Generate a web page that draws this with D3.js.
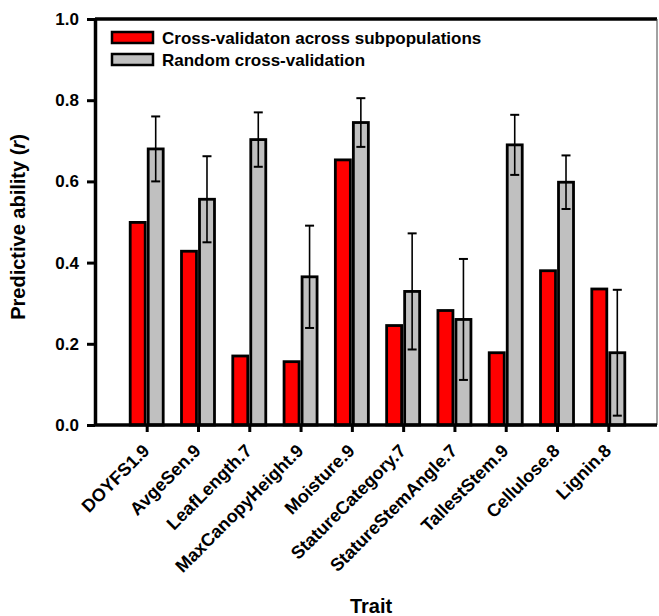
<!DOCTYPE html>
<html>
<head>
<meta charset="utf-8">
<script src="https://cdn.jsdelivr.net/npm/d3@7"></script>
<style>
  body { margin: 0; background: #fff; }
  svg text { font-family: "Liberation Sans", Arial, sans-serif; font-weight: bold; }
</style>
</head>
<body>
<div id="chart"></div>
<script>
const traits = ["DOYFS1.9", "AvgeSen.9", "LeafLength.7", "MaxCanopyHeight.9", "Moisture.9",
  "StatureCategory.7", "StatureStemAngle.7", "TallestStem.9", "Cellulose.8", "Lignin.8"];
const acrossSubpop = [0.499, 0.428, 0.170, 0.156, 0.653, 0.245, 0.282, 0.178, 0.380, 0.335];
const randomCV = [0.680, 0.556, 0.703, 0.365, 0.745, 0.329, 0.260, 0.690, 0.598, 0.178];
const randomErr = [0.080, 0.106, 0.067, 0.126, 0.060, 0.143, 0.149, 0.074, 0.066, 0.155];
const yTicks = [0.0, 0.2, 0.4, 0.6, 0.8, 1.0];
const seriesNames = ["Cross-validaton across subpopulations", "Random cross-validation"];
const seriesColors = ["#ff0000", "#c0c0c0"];

const width = 659, height = 616;
const plotLeft = 95, plotRight = 657, plotTop = 19, plotBottom = 425;

const svg = d3.select("#chart").append("svg")
  .attr("width", width)
  .attr("height", height);

const x = d3.scalePoint().domain(traits).range([146.7, 608.3]);
const y = d3.scaleLinear().domain([0, 1]).range([plotBottom, plotTop]);

const barW = 15, gap = 1.5;

// red bars
svg.selectAll(".bar-a")
  .data(traits)
  .enter().append("rect")
  .attr("x", d => x(d) - gap - barW)
  .attr("width", barW)
  .attr("y", (d, i) => y(acrossSubpop[i]))
  .attr("height", (d, i) => y(0) - y(acrossSubpop[i]))
  .attr("fill", seriesColors[0])
  .attr("stroke", "#000")
  .attr("stroke-width", 2.8);

// gray bars
svg.selectAll(".bar-b")
  .data(traits)
  .enter().append("rect")
  .attr("x", d => x(d) + gap)
  .attr("width", barW)
  .attr("y", (d, i) => y(randomCV[i]))
  .attr("height", (d, i) => y(0) - y(randomCV[i]))
  .attr("fill", seriesColors[1])
  .attr("stroke", "#000")
  .attr("stroke-width", 2.8);

// error bars
const err = svg.selectAll(".err")
  .data(traits)
  .enter().append("g")
  .attr("stroke", "#000")
  .attr("stroke-width", 1.6);
const cx = d => x(d) + gap + barW / 2;
err.append("line")
  .attr("x1", cx).attr("x2", cx)
  .attr("y1", (d, i) => y(randomCV[i] + randomErr[i]))
  .attr("y2", (d, i) => y(randomCV[i] - randomErr[i]));
err.append("line")
  .attr("x1", d => cx(d) - 4.5).attr("x2", d => cx(d) + 4.5)
  .attr("y1", (d, i) => y(randomCV[i] + randomErr[i]))
  .attr("y2", (d, i) => y(randomCV[i] + randomErr[i]))
  .attr("stroke-width", 2);
err.append("line")
  .attr("x1", d => cx(d) - 4.5).attr("x2", d => cx(d) + 4.5)
  .attr("y1", (d, i) => y(randomCV[i] - randomErr[i]))
  .attr("y2", (d, i) => y(randomCV[i] - randomErr[i]))
  .attr("stroke-width", 2);

// frame
svg.append("line")
  .attr("x1", plotLeft).attr("x2", plotRight).attr("y1", plotTop).attr("y2", plotTop)
  .attr("stroke", "#000").attr("stroke-width", 3.5);
svg.append("line")
  .attr("x1", plotRight).attr("x2", plotRight).attr("y1", plotTop).attr("y2", plotBottom)
  .attr("stroke", "#444").attr("stroke-width", 1);

// y axis
const yAxis = svg.append("g")
  .attr("transform", `translate(${plotLeft},0)`)
  .call(d3.axisLeft(y).tickValues(yTicks).tickFormat(d3.format(".1f")).tickSize(8).tickSizeOuter(0));
yAxis.select(".domain").attr("stroke-width", 3.5);
yAxis.selectAll(".tick line").attr("stroke-width", 3);
yAxis.selectAll("text")
  .attr("x", -16)
  .style("font-size", "17px")
  .style("font-weight", "bold")
  .attr("fill", "#000");

// x axis
const xAxis = svg.append("g")
  .attr("transform", `translate(0,${plotBottom})`)
  .call(d3.axisBottom(x).tickSize(7).tickSizeOuter(0).tickFormat(""));
xAxis.select(".domain").attr("d", `M${plotLeft},0H${plotRight}`).attr("stroke-width", 3.5);
xAxis.selectAll(".tick line").attr("stroke-width", 3);

svg.selectAll(".xlabel")
  .data(traits)
  .enter().append("text")
  .attr("transform", d => `translate(${x(d) - 5},${plotBottom + 18}) rotate(-45)`)
  .attr("text-anchor", "end")
  .attr("dy", "0.7em")
  .style("font-size", "18px")
  .text(d => d);

// axis titles
svg.append("text")
  .attr("transform", `translate(25,${(plotTop + plotBottom) / 2 + 5}) rotate(-90)`)
  .attr("text-anchor", "middle")
  .style("font-size", "20px")
  .html("Predictive ability (<tspan font-style='italic'>r</tspan>)");

svg.append("text")
  .attr("x", 371)
  .attr("y", 613)
  .attr("text-anchor", "middle")
  .style("font-size", "20px")
  .text("Trait");

// legend
const legend = svg.selectAll(".legend")
  .data(seriesNames)
  .enter().append("g")
  .attr("transform", (d, i) => `translate(112,${32 + i * 22})`);
legend.append("rect")
  .attr("width", 41)
  .attr("height", 11)
  .attr("fill", (d, i) => seriesColors[i])
  .attr("stroke", "#000")
  .attr("stroke-width", 2.5);
legend.append("text")
  .attr("x", 50)
  .attr("y", 6)
  .attr("dy", "0.35em")
  .style("font-size", "17px")
  .text(d => d);
</script>
</body>
</html>
